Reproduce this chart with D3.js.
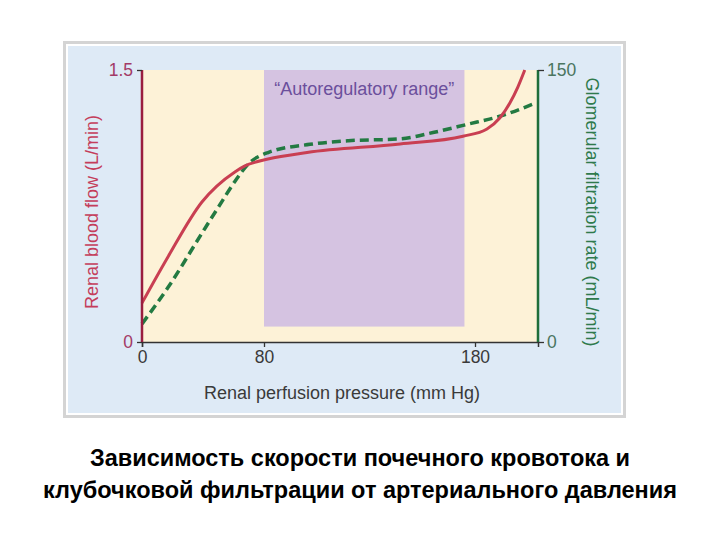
<!DOCTYPE html>
<html><head><meta charset="utf-8">
<script src="https://cdn.jsdelivr.net/npm/d3@7"></script>
<style>
body{margin:0;background:#fff;}
svg{display:block;font-family:"Liberation Sans",Arial,sans-serif;}
</style></head>
<body><svg id="c" width="720" height="540"></svg>
<script>
// Data
const xTicks = [0, 80, 180];
const autoRange = [80, 175];
const rbfX = [0, 17, 39.3, 60.9, 67.5, 81.9, 100.4, 144.5, 174.3, 185.7, 191.8, 196.6, 200.4, 203.7];
const rbfY = [0.215, 0.469, 0.772, 0.938, 0.971, 1.009, 1.045, 1.092, 1.135, 1.175, 1.235, 1.318, 1.406, 1.5];
const gfrX = [0, 17, 39.3, 49.8, 60.9, 69.5, 81.9, 101.8, 120, 144.5, 160.1, 176.2, 191.8, 209.4];
const gfrY = [10, 30, 60, 74, 88.5, 98, 104.5, 109, 111, 112, 115.5, 120, 124.5, 132];
const leftTicks = [0, 1.5];
const rightTicks = [0, 150];
const titleLines = ["Зависимость скорости почечного кровотока и", "клубочковой фильтрации от артериального давления"];

const svg = d3.select("#c");
const x = d3.scaleLinear().domain([0, 80, 180, 210]).range([142, 264, 475, 538]);
const yL = d3.scaleLinear().domain([0, 1.5]).range([342, 70]);
const yR = d3.scaleLinear().domain([0, 150]).range([342, 70]);
const FONT = "Liberation Sans, Arial, sans-serif";

// frame
svg.append("rect").attr("x", 64.5).attr("y", 42.5).attr("width", 560).attr("height", 374)
  .attr("fill", "#ffffff").attr("stroke", "#d4d4d4").attr("stroke-width", 3);
svg.append("rect").attr("x", 68).attr("y", 46).attr("width", 553).attr("height", 367).attr("fill", "#deeaf6");

// plot backgrounds
svg.append("rect").attr("x", x(0)).attr("y", yL(1.5)).attr("width", x(210) - x(0)).attr("height", yL(0) - yL(1.5)).attr("fill", "#fdf2d7");
svg.append("rect").attr("x", x(autoRange[0])).attr("y", yL(1.5)).attr("width", x(autoRange[1]) - x(autoRange[0]))
  .attr("height", yL(0.085) - yL(1.5)).attr("fill", "#d5c3e1");
svg.append("text").attr("x", (x(autoRange[0]) + x(autoRange[1])) / 2).attr("y", 95).attr("text-anchor", "middle")
  .attr("font-size", 18).attr("fill", "#6b4f9c").text("\u201CAutoregulatory range\u201D");

// curves
const line = d3.line().curve(d3.curveMonotoneX);
svg.append("path").attr("d", line(gfrX.map((v, i) => [x(v), yR(gfrY[i])])))
  .attr("fill", "none").attr("stroke", "#237a42").attr("stroke-width", 3.5).attr("stroke-dasharray", "9,5");
svg.append("path").attr("d", line(rbfX.map((v, i) => [x(v), yL(rbfY[i])])))
  .attr("fill", "none").attr("stroke", "#c93f52").attr("stroke-width", 3);

// bottom axis
const gx = svg.append("g").attr("transform", `translate(0,${yL(0)})`)
  .call(d3.axisBottom(x).tickValues(xTicks).tickSize(5).tickPadding(4).tickFormat(d3.format("d")));
gx.select(".domain").attr("stroke", "#333").attr("stroke-width", 1.5);
gx.selectAll(".tick line").attr("stroke", "#333").attr("stroke-width", 1.3);
gx.selectAll("text").attr("font-size", 17.5).attr("fill", "#3a3a3a").attr("font-family", FONT);

// left axis
const gl = svg.append("g").attr("transform", `translate(${x(0)},0)`)
  .call(d3.axisLeft(yL).tickValues(leftTicks).tickSize(5).tickPadding(4).tickFormat(d => d === 0 ? "0" : d3.format(".1f")(d)));
gl.select(".domain").attr("stroke", "#9a1d3f").attr("stroke-width", 2.5).attr("d", `M0,${yL(1.5)}V${yL(0)}`);
gl.selectAll(".tick line").attr("stroke", "#333").attr("stroke-width", 1.3);
gl.selectAll("text").attr("font-size", 17.5).attr("fill", "#a33a66").attr("font-family", FONT);

// right axis
const gr = svg.append("g").attr("transform", `translate(${x(210)},0)`)
  .call(d3.axisRight(yR).tickValues(rightTicks).tickSize(6).tickPadding(3).tickFormat(d3.format("d")));
gr.select(".domain").attr("stroke", "#1f6e3a").attr("stroke-width", 2.5).attr("d", `M0,${yR(150)}V${yR(0)}`);
gr.selectAll(".tick line").attr("stroke", "#333").attr("stroke-width", 1.3);
gr.selectAll("text").attr("font-size", 17.5).attr("fill", "#4a7560").attr("font-family", FONT);

// axis titles
svg.append("text").attr("transform", `translate(98,212) rotate(-90)`).attr("text-anchor", "middle")
  .attr("font-size", 18).attr("fill", "#c43d5b").text("Renal blood flow (L/min)");
svg.append("text").attr("transform", `translate(586,212) rotate(90)`).attr("text-anchor", "middle")
  .attr("font-size", 18).attr("fill", "#2f7a4c").text("Glomerular filtration rate (mL/min)");
svg.append("text").attr("x", 342).attr("y", 399).attr("text-anchor", "middle")
  .attr("font-size", 18).attr("fill", "#3a3a3a").text("Renal perfusion pressure (mm Hg)");

// title
svg.selectAll(".ttl").data(titleLines).join("text").attr("class", "ttl")
  .attr("x", 360).attr("y", (d, i) => 466 + i * 32).attr("text-anchor", "middle")
  .attr("font-size", 23.5).attr("font-weight", "bold").attr("fill", "#000").text(d => d);
</script></body></html>
